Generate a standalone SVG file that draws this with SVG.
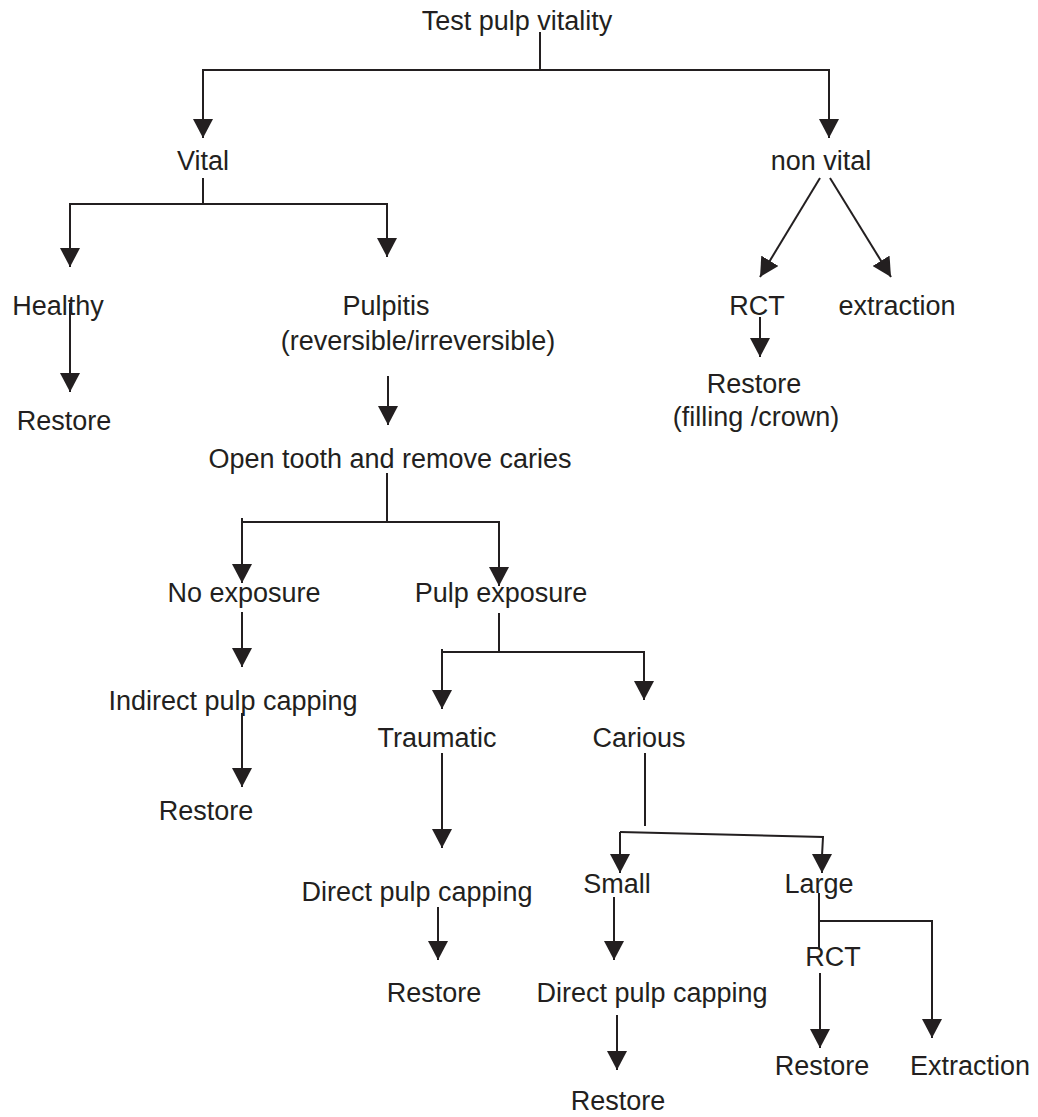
<svg xmlns="http://www.w3.org/2000/svg" width="1038" height="1117" viewBox="0 0 1038 1117">
<style>
text{font-family:"Liberation Sans",Arial,sans-serif;font-size:27px;fill:#231f20;text-anchor:middle}
.c line,.c polyline{stroke:#231f20;stroke-width:2;fill:none}
.a{marker-end:url(#ah)}
</style>
<defs>
<marker id="ah" markerUnits="userSpaceOnUse" markerWidth="20" markerHeight="20" viewBox="0 0 20 20" refX="19" refY="10" orient="auto">
<path d="M0,0 L19,10 L0,20 z" fill="#231f20"/>
</marker>
</defs>
<rect width="1038" height="1117" fill="#fff"/>
<g class="c" id="connectors">
<line x1="540" y1="32" x2="540" y2="70"/>
<line x1="202" y1="70" x2="830" y2="70"/>
<line class="a" x1="203" y1="70" x2="203" y2="138"/>
<line class="a" x1="829" y1="70" x2="829" y2="138"/>
<line x1="203" y1="178" x2="203" y2="204"/>
<line x1="69" y1="204" x2="388" y2="204"/>
<line class="a" x1="70" y1="204" x2="70" y2="267"/>
<line class="a" x1="387" y1="204" x2="387" y2="257"/>
<line class="a" x1="70" y1="303" x2="70" y2="392"/>
<line class="a" x1="388" y1="376" x2="388" y2="425"/>
<line class="a" x1="820" y1="178" x2="760" y2="277"/>
<line class="a" x1="830" y1="178" x2="891" y2="277"/>
<line class="a" x1="760" y1="317" x2="760" y2="357"/>
<line x1="387" y1="473" x2="387" y2="522"/>
<line x1="242" y1="522" x2="500" y2="522"/>
<line class="a" x1="242" y1="518" x2="242" y2="583"/>
<line class="a" x1="499" y1="522" x2="499" y2="586"/>
<line class="a" x1="242" y1="612" x2="242" y2="667"/>
<line x1="499" y1="613" x2="499" y2="652"/>
<line x1="442" y1="652" x2="645" y2="652"/>
<line class="a" x1="442" y1="649" x2="442" y2="709"/>
<line class="a" x1="644" y1="652" x2="644" y2="700"/>
<line class="a" x1="242" y1="713" x2="242" y2="787"/>
<line class="a" x1="442" y1="753" x2="442" y2="848"/>
<line class="a" x1="438" y1="907" x2="438" y2="960"/>
<line x1="645" y1="753" x2="645" y2="826"/>
<polyline points="620,832 823,837 822,856"/>
<line class="a" x1="620" y1="832" x2="620" y2="873"/>
<line class="a" x1="822" y1="854" x2="822" y2="873"/>
<line class="a" x1="614" y1="897" x2="614" y2="960"/>
<line class="a" x1="617" y1="1015" x2="617" y2="1070"/>
<line x1="819" y1="893" x2="819" y2="948"/>
<polyline points="819,921 932,921 932,930"/>
<line class="a" x1="932" y1="921" x2="932" y2="1038"/>
<line class="a" x1="820" y1="973" x2="820" y2="1048"/>
</g>
<g id="n-test"><text x="517" y="30">Test pulp vitality</text></g>
<g id="n-vital"><text x="203" y="170">Vital</text></g>
<g id="n-nonvital"><text x="821" y="170">non vital</text></g>
<g id="n-healthy"><text x="58" y="315">Healthy</text></g>
<g id="n-restore1"><text x="64" y="430">Restore</text></g>
<g id="n-pulpitis"><text x="386" y="315">Pulpitis</text><text x="418" y="350">(reversible/irreversible)</text></g>
<g id="n-rct1"><text x="757" y="315">RCT</text></g>
<g id="n-extraction1"><text x="897" y="315">extraction</text></g>
<g id="n-restore2"><text x="754" y="393">Restore</text><text x="756" y="426">(filling /crown)</text></g>
<g id="n-open"><text x="390" y="468">Open tooth and remove caries</text></g>
<g id="n-noexp"><text x="244" y="602">No exposure</text></g>
<g id="n-pulpexp"><text x="501" y="602">Pulp exposure</text></g>
<g id="n-indirect"><text x="233" y="710">Indirect pulp capping</text></g>
<g id="n-restore3"><text x="206" y="820">Restore</text></g>
<g id="n-traumatic"><text x="437" y="747">Traumatic</text></g>
<g id="n-carious"><text x="639" y="747">Carious</text></g>
<g id="n-direct1"><text x="417" y="901">Direct pulp capping</text></g>
<g id="n-restore4"><text x="434" y="1002">Restore</text></g>
<g id="n-small"><text x="617" y="893">Small</text></g>
<g id="n-large"><text x="819" y="893">Large</text></g>
<g id="n-direct2"><text x="652" y="1002">Direct pulp capping</text></g>
<g id="n-restore5"><text x="618" y="1110">Restore</text></g>
<g id="n-rct2"><text x="833" y="966">RCT</text></g>
<g id="n-restore6"><text x="822" y="1075">Restore</text></g>
<g id="n-extraction2"><text x="970" y="1075">Extraction</text></g>
</svg>
